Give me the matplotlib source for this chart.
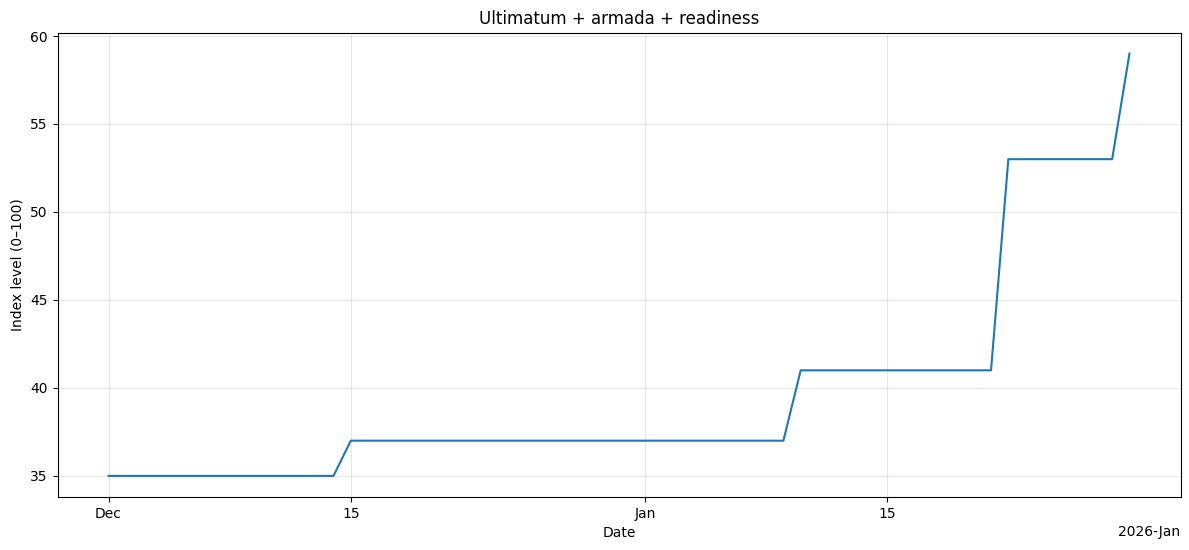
import matplotlib
matplotlib.use("Agg")
import matplotlib.pyplot as plt
import matplotlib.dates as mdates
import pandas as pd

start_date = "2025-12-01"
end_date = "2026-01-29"
index_values = (
    [35] * 14 +   # Dec 1 - Dec 14
    [37] * 26 +   # Dec 15 - Jan 9
    [41] * 12 +   # Jan 10 - Jan 21
    [53] * 7 +    # Jan 22 - Jan 28
    [59]          # Jan 29
)
dates = pd.date_range(start_date, end_date, freq="D")

fig, ax = plt.subplots(figsize=(11.89, 5.5), dpi=100)
ax.plot(dates, index_values, color="#1f77b4", linewidth=1.5)
locator = mdates.DayLocator(bymonthday=[1, 15])
ax.xaxis.set_major_locator(locator)
ax.xaxis.set_major_formatter(mdates.ConciseDateFormatter(locator))
ax.set_title("Ultimatum + armada + readiness")
ax.set_xlabel("Date")
ax.set_ylabel("Index level (0\u2013100)")
ax.grid(True, alpha=0.3)
fig.subplots_adjust(left=57.5 / 1189, right=1180.5 / 1189,
                    top=1 - 32.5 / 550, bottom=1 - 497 / 550)
fig.savefig("out.png", dpi=100)
